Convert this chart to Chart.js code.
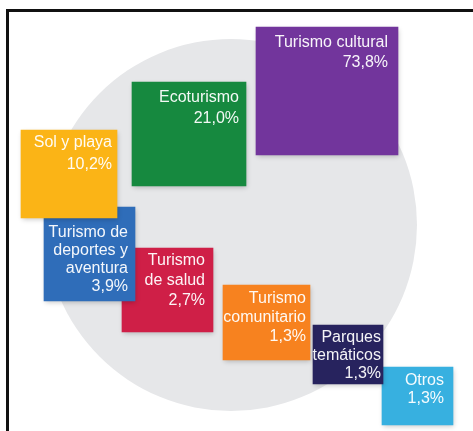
<!DOCTYPE html>
<html>
<head>
<meta charset="utf-8">
<script src="https://cdn.jsdelivr.net/npm/chart.js@4/dist/chart.umd.min.js"></script>
<style>
    body { margin: 0; background: #fff; }
    #wrap { position: relative; width: 473px; height: 431px; }
    #frame {
        position: absolute; left: 6px; top: 9px; right: 0; bottom: 0;
        border-top: 3px solid #111; border-left: 3px solid #111;
        pointer-events: none;
    }
</style>
</head>
<body>
<div id="wrap">
    <canvas id="chart"></canvas>
    <div id="frame"></div>
</div>
<script>
// tourism segments and their share (%)
const categories = [
    ['Turismo cultural'],
    ['Ecoturismo'],
    ['Sol y playa'],
    ['Turismo de', 'deportes y', 'aventura'],
    ['Turismo', 'de salud'],
    ['Turismo', 'comunitario'],
    ['Parques', 'temáticos'],
    ['Otros']
];
const shares = [73.8, 21.0, 10.2, 3.9, 2.7, 1.3, 1.3, 1.3];

const colors = ['#72359c', '#16893f', '#fbb416', '#2f6db9', '#cf1f47', '#f7821f', '#27235e', '#37b0e0'];

// box placement, in canvas units (x left/right, y top/bottom)
const boxLeft = [256, 132, 21, 44, 122, 223, 313, 382];
const boxRight = [398, 246, 117, 135, 213, 310, 383, 453];
const boxTop = [27, 82, 130, 207, 248, 285, 325, 367];
const boxBottom = [155, 186, 218, 301, 332, 360, 384, 425];

// label placement inside each box
const labelPad = [10, 7, 5, 7, 8, 4, 2, 9];
const labelDrop = [20, 20, 17, 30, 17, 18, 17, 18];
const labelLead = [20, 21, 21.5, 18, 20, 19, 18, 18];

// grey disc behind the boxes
const disc = { x: 231, y: 225, r: 186 };

function formatShare(v) {
    return v.toFixed(1).replace('.', ',') + '%';
}

const datasets = categories.map((name, i) => ({
    type: 'bar',
    label: name.join(' '),
    data: [{ x: (boxLeft[i] + boxRight[i]) / 2, y: [boxTop[i], boxBottom[i]] }],
    barThickness: boxRight[i] - boxLeft[i],
    backgroundColor: colors[i],
    borderWidth: 0,
    grouped: false,
    order: 0
}));

datasets.push({
    type: 'bubble',
    label: 'fondo',
    data: [disc],
    backgroundColor: '#e6e7e9',
    borderWidth: 0,
    order: 10
});

const boxLabels = {
    id: 'boxLabels',
    beforeDatasetDraw(chart, args) {
        if (args.meta.type !== 'bar') return;
        const ctx = chart.ctx;
        ctx.save();
        ctx.shadowColor = 'rgba(0, 0, 0, 0.22)';
        ctx.shadowBlur = 5;
        ctx.shadowOffsetX = 1;
        ctx.shadowOffsetY = 2;
    },
    afterDatasetDraw(chart, args) {
        if (args.meta.type !== 'bar') return;
        const ctx = chart.ctx;
        ctx.restore();

        const i = args.index;
        const el = args.meta.data[0];
        const right = el.x + el.width / 2 - labelPad[i];
        const top = Math.min(el.y, el.base);
        const lines = categories[i].concat([formatShare(shares[i])]);

        ctx.save();
        ctx.font = '16px "Liberation Sans", Arial, sans-serif';
        ctx.fillStyle = 'rgba(255, 255, 255, 0.95)';
        ctx.textAlign = 'right';
        ctx.textBaseline = 'alphabetic';
        lines.forEach((line, k) => {
            ctx.fillText(line, right, top + labelDrop[i] + k * labelLead[i]);
        });
        ctx.restore();
    }
};

new Chart(document.getElementById('chart'), {
    type: 'bar',
    data: { datasets: datasets },
    options: {
        responsive: true,
        maintainAspectRatio: false,
        animation: false,
        events: [],
        // the disc radius must not pad the chart area
        layout: { padding: 0, autoPadding: false },
        scales: {
            x: { type: 'linear', min: 0, max: 473, display: false, offset: false },
            y: { type: 'linear', min: 0, max: 431, reverse: true, display: false }
        },
        plugins: {
            legend: { display: false },
            tooltip: { enabled: false }
        }
    },
    plugins: [boxLabels]
});
</script>
</body>
</html>
